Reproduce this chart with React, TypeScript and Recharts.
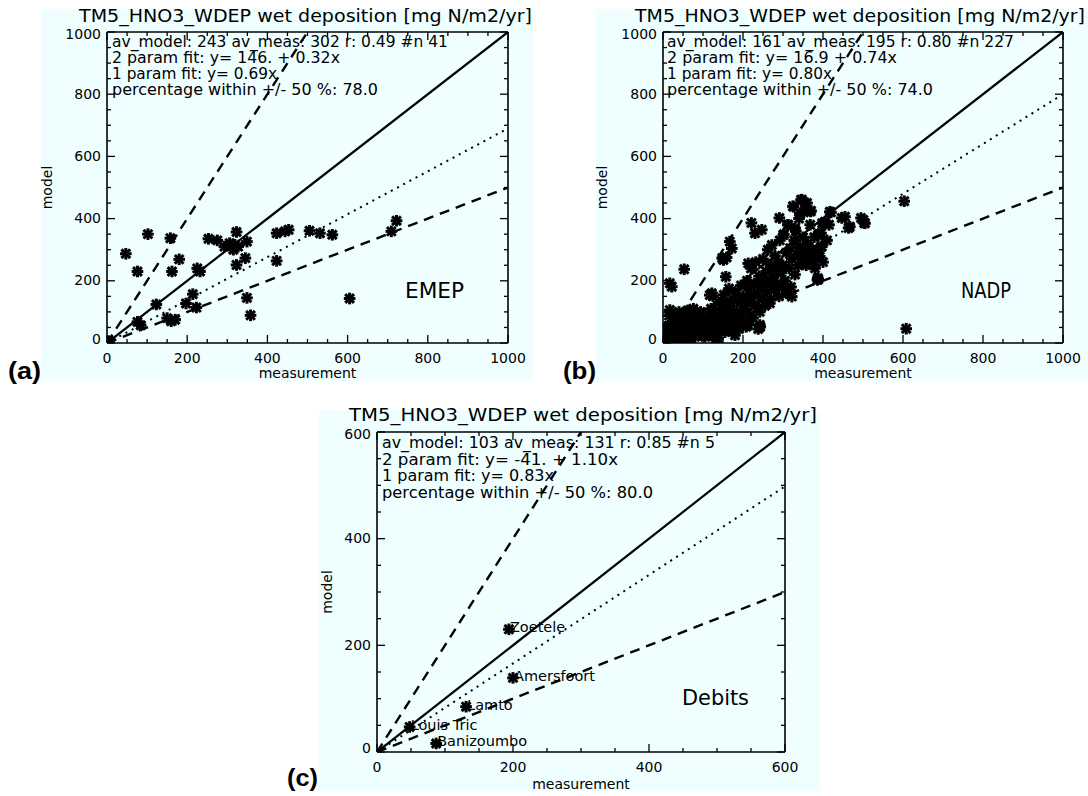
import React from 'react';
import { ScatterChart, Scatter, XAxis, YAxis } from 'recharts';

// ---------- data ----------
const ticksTo1000 = [0, 50, 100, 150, 200, 250, 300, 350, 400, 450, 500, 550, 600, 650, 700, 750, 800, 850, 900, 950, 1000];
const majorTo1000 = [0, 200, 400, 600, 800, 1000];
const ticksTo600 = [0, 50, 100, 150, 200, 250, 300, 350, 400, 450, 500, 550, 600];
const majorTo600 = [0, 200, 400, 600];

const chartTitle = 'TM5_HNO3_WDEP wet deposition [mg N/m2/yr]';
const xTitle = 'measurement';
const yTitle = 'model';

const statsEmep = ['av_model: 243 av_meas: 302 r: 0.49 #n 41', '2 param fit: y= 146. + 0.32x', '1 param fit: y= 0.69x', 'percentage within +/- 50 %: 78.0'];
const statsNadp = ['av_model: 161 av_meas: 195 r: 0.80 #n 227', '2 param fit: y= 16.9 + 0.74x', '1 param fit: y= 0.80x', 'percentage within +/- 50 %: 74.0'];
const statsDebits = ['av_model: 103 av_meas: 131 r: 0.85 #n 5', '2 param fit: y= -41. + 1.10x', '1 param fit: y= 0.83x', 'percentage within +/- 50 %: 80.0'];

// [measurement, model]
const emepPoints: [number, number][] = [
  [5, 6], [47, 287], [76, 230], [102, 350], [123, 124], [76, 68], [84, 57], [160, 70], [170, 75], [150, 80],
  [158, 337], [162, 230], [180, 269], [197, 127], [214, 157], [223, 114], [225, 240], [232, 230], [253, 335], [275, 330],
  [293, 310], [306, 321], [319, 316], [323, 357], [327, 310], [323, 251], [345, 273], [349, 326], [349, 145], [358, 89],
  [423, 264], [423, 353], [444, 359], [453, 364], [505, 361], [531, 353], [562, 348], [605, 143], [709, 359], [722, 393],
  [315, 300],
];

const nadpPoints: [number, number][] = [
  [3, 4], [5, 15], [8, 8], [10, 25], [12, 3], [14, 40], [16, 12], [18, 55], [20, 30], [22, 6],
  [24, 70], [26, 20], [28, 45], [30, 10], [32, 85], [34, 35], [36, 60], [38, 18], [40, 100], [42, 50],
  [44, 28], [46, 75], [48, 8], [50, 40], [52, 95], [54, 60], [56, 22], [58, 80], [60, 45], [62, 105],
  [64, 30], [66, 65], [68, 12], [70, 90], [72, 50], [74, 35], [76, 110], [78, 70], [80, 20], [82, 55],
  [84, 95], [86, 40], [88, 75], [90, 25], [92, 60], [94, 100], [96, 45], [98, 30], [100, 80], [102, 55],
  [105, 20], [108, 65], [110, 40], [115, 90], [118, 25], [120, 110], [122, 50], [125, 150], [128, 75], [130, 30],
  [132, 100], [135, 60], [138, 15], [140, 130], [142, 85], [145, 45], [148, 110], [150, 70], [152, 155], [155, 35],
  [158, 95], [160, 130], [162, 60], [165, 175], [168, 40], [170, 110], [172, 85], [175, 140], [178, 55], [180, 25],
  [182, 160], [185, 100], [188, 70], [190, 45], [192, 130], [195, 185], [198, 90],
  [200, 150], [202, 60], [205, 110], [208, 52], [210, 200], [212, 130], [215, 170], [218, 90], [220, 240], [222, 145],
  [225, 80], [228, 190], [230, 120], [232, 260], [235, 160], [238, 45], [240, 215], [242, 100], [245, 180], [248, 140],
  [250, 270], [252, 200], [255, 120], [258, 230], [260, 165], [262, 300], [265, 195], [268, 140], [270, 250], [272, 315],
  [275, 210], [278, 170], [280, 280], [282, 235], [285, 190], [288, 260], [290, 150], [292, 330], [295, 225], [298, 180],
  [300, 250], [302, 350], [305, 200], [308, 290], [310, 160], [312, 380], [315, 240], [318, 305], [320, 180], [322, 270],
  [325, 440], [328, 330], [330, 220], [332, 360], [335, 285], [338, 250], [340, 400], [342, 310], [345, 460], [348, 270],
  [350, 340], [352, 420], [355, 295], [358, 250], [360, 450], [362, 320], [365, 280], [368, 380], [370, 425], [372, 300],
  [375, 265], [378, 340], [380, 240], [385, 300], [388, 205], [390, 350], [392, 278], [395, 310], [398, 385], [400, 260],
  [405, 390], [410, 330], [415, 380], [420, 420],
  [17, 192], [22, 181], [53, 237], [117, 154], [122, 160], [148, 273], [157, 213], [159, 275], [167, 326], [172, 304],
  [151, 267], [213, 256], [221, 386], [230, 353], [247, 364], [243, 52], [242, 58], [213, 58], [291, 402], [301, 347],
  [313, 380], [330, 369], [326, 438], [347, 461], [355, 449], [342, 417], [369, 423], [417, 422], [404, 386], [395, 353],
  [386, 278], [386, 203], [388, 347], [397, 310], [387, 208], [322, 149], [309, 160], [267, 128], [447, 402], [464, 370],
  [455, 406], [467, 374], [495, 402], [503, 386], [501, 396], [505, 385], [603, 456], [608, 46], [17, 106], [108, 30],
  [122, 26], [6, 52], [15, 88], [130, 10],
];

const debitsSites = ['Zoetele', 'Amersfoort', 'Lamto', 'Louis Tric', 'Banizoumbo'];
const debitsMeas = [194, 200, 131, 48, 87];
const debitsModel = [230, 139, 85, 47, 16];

const identity1000: [number, number][] = [[0, 0], [1000, 1000]];
const double1000: [number, number][] = [[0, 0], [500, 1000]];
const half1000: [number, number][] = [[0, 0], [1000, 500]];
const fitEmep: [number, number][] = [[0, 0], [1000, 690]];
const fitNadp: [number, number][] = [[0, 0], [1000, 800]];
const identity600: [number, number][] = [[0, 0], [600, 600]];
const double600: [number, number][] = [[0, 0], [300, 600]];
const half600: [number, number][] = [[0, 0], [600, 300]];
const fitDebits: [number, number][] = [[0, 0], [600, 498]];

// ---------- drawing helpers ----------
const FONT = 'DejaVu Sans, Verdana, sans-serif';
const BG = '#EFFFFF';

const toXY = (arr: [number, number][]) => arr.map(([x, y]) => ({ x, y }));

function Star({ cx, cy }: { cx: number; cy: number }) {
  const r = 5.8;
  const d = 4.4;
  return (
    <g stroke="#000" strokeWidth={3}>
      <line x1={cx - r} y1={cy} x2={cx + r} y2={cy} />
      <line x1={cx} y1={cy - r} x2={cx} y2={cy + r} />
      <line x1={cx - d} y1={cy - d} x2={cx + d} y2={cy + d} />
      <line x1={cx - d} y1={cy + d} x2={cx + d} y2={cy - d} />
    </g>
  );
}

const starShape = (p: any) => <Star cx={p.cx} cy={p.cy} />;
const labelledShape = (p: any) => {
  const name = (p.payload && p.payload.name) || '';
  return (
    <g>
      <Star cx={p.cx} cy={p.cy} />
      <text x={p.cx + 1} y={p.cy + 3} fontSize={14.5} fontFamily={FONT} fill="#000">{name}</text>
    </g>
  );
};
const noShape = () => <g />;

type PanelProps = {
  left: number; top: number; width: number; height: number;
  margin: { top: number; right: number; bottom: number; left: number };
  max: number; ticks: number[]; majors: number[];
  points: { x: number; y: number; name?: string }[];
  labelled?: boolean;
  identity: [number, number][]; dbl: [number, number][]; half: [number, number][]; fit: [number, number][];
};

function Panel(props: PanelProps) {
  const { left, top, width, height, margin, max, ticks, majors, points, labelled, identity, dbl, half, fit } = props;
  const major = (v: number) => majors.indexOf(v) >= 0;
  const lab = { fontSize: 14, fontFamily: FONT, fill: '#000' };
  const bottomTick = (p: any) => {
    const v = p.payload.value;
    return (
      <g>
        <line x1={p.x} y1={p.y} x2={p.x} y2={p.y - (major(v) ? 8 : 4)} stroke="#000" strokeWidth={1.3} />
        {major(v) && <text x={p.x} y={p.y + 20} textAnchor="middle" {...lab}>{v}</text>}
      </g>
    );
  };
  const topTick = (p: any) => {
    const v = p.payload.value;
    return <line x1={p.x} y1={p.y} x2={p.x} y2={p.y + (major(v) ? 8 : 4)} stroke="#000" strokeWidth={1.3} />;
  };
  const leftTick = (p: any) => {
    const v = p.payload.value;
    const dy = v === 0 ? 1 : v === max ? 7 : 4.5;
    return (
      <g>
        <line x1={p.x} y1={p.y} x2={p.x + (major(v) ? 8 : 4)} y2={p.y} stroke="#000" strokeWidth={1.3} />
        {major(v) && <text x={p.x - 6} y={p.y + dy} textAnchor="end" {...lab}>{v}</text>}
      </g>
    );
  };
  const rightTick = (p: any) => {
    const v = p.payload.value;
    return <line x1={p.x} y1={p.y} x2={p.x - (major(v) ? 8 : 4)} y2={p.y} stroke="#000" strokeWidth={1.3} />;
  };
  const axisLine = { stroke: '#000', strokeWidth: 1.6 };
  const common = { type: 'number' as const, domain: [0, max], ticks, interval: 0 as const, tickSize: 0, tickMargin: 0, tickLine: false, axisLine, allowDataOverflow: true };
  // axes take 1px each of the margin (an axis of zero size is not drawn)
  const m = { top: margin.top - 1, right: margin.right - 1, bottom: margin.bottom - 1, left: margin.left - 1 };
  return (
    <div style={{ position: 'absolute', left, top, width, height, background: BG }}>
      <ScatterChart width={width} height={height} margin={m} style={{ overflow: 'visible' }}>
        <XAxis xAxisId="b" dataKey="x" orientation="bottom" height={1} tick={bottomTick} {...common} />
        <XAxis xAxisId="t" dataKey="x" orientation="top" height={1} tick={topTick} {...common} />
        <YAxis yAxisId="l" dataKey="y" orientation="left" width={1} tick={leftTick} {...common} />
        <YAxis yAxisId="r" dataKey="y" orientation="right" width={1} tick={rightTick} {...common} />
        <Scatter xAxisId="t" yAxisId="r" data={toXY(identity)} fill="#000" shape={noShape}
          line={{ stroke: '#000', strokeWidth: 2.2 }} isAnimationActive={false} />
        <Scatter xAxisId="t" yAxisId="r" data={toXY(dbl)} fill="#000" shape={noShape}
          line={{ stroke: '#000', strokeWidth: 2.4, strokeDasharray: '10 7' }} isAnimationActive={false} />
        <Scatter xAxisId="t" yAxisId="r" data={toXY(half)} fill="#000" shape={noShape}
          line={{ stroke: '#000', strokeWidth: 2.4, strokeDasharray: '10 7' }} isAnimationActive={false} />
        <Scatter xAxisId="t" yAxisId="r" data={toXY(fit)} fill="#000" shape={noShape}
          line={{ stroke: '#000', strokeWidth: 2, strokeDasharray: '2 5' }} isAnimationActive={false} />
        <Scatter xAxisId="b" yAxisId="l" data={points} fill="#000"
          shape={labelled ? labelledShape : starShape} isAnimationActive={false} />
      </ScatterChart>
    </div>
  );
}

function Txt({ x, y, w, size = 15, anchor = 'start', children, rotate = false, bold = false, family = FONT }: any) {
  return (
    <text x={x} y={y} fontSize={size} fontFamily={family} fontWeight={bold ? 'bold' : 'normal'} fill="#000"
      textAnchor={anchor} textLength={w} lengthAdjust={w ? 'spacingAndGlyphs' : undefined}
      transform={rotate ? `rotate(-90 ${x} ${y})` : undefined}>{children}</text>
  );
}

function Annotations() {
  const statsRows = [15, 31, 47, 63];
  const wA = [336, 228, 165, 266];
  const wB = [347, 230, 165, 266];
  const wC = [333, 236, 172, 271];
  return (
    <svg width={1088} height={796} style={{ position: 'absolute', left: 0, top: 0, pointerEvents: 'none' }}>
      {/* panel a */}
      <Txt x={79} y={21.5} w={453} size={17}>{chartTitle}</Txt>
      {statsEmep.map((s, i) => <Txt key={'a' + i} x={112} y={32 + statsRows[i]} w={wA[i]}>{s}</Txt>)}
      <Txt x={405} y={298} w={59} size={21.5}>EMEP</Txt>
      <Txt x={307.5} y={378} size={14} anchor="middle">{xTitle}</Txt>
      <Txt x={52} y={187.5} size={14} anchor="middle" rotate>{yTitle}</Txt>
      <Txt x={8} y={379} size={24} bold family="Liberation Sans, Arial, sans-serif" w={33}>(a)</Txt>
      {/* panel b */}
      <Txt x={635} y={21.5} w={450} size={17}>{chartTitle}</Txt>
      {statsNadp.map((s, i) => <Txt key={'b' + i} x={667} y={32 + statsRows[i]} w={wB[i]}>{s}</Txt>)}
      <Txt x={961} y={298} w={50} size={21.5}>NADP</Txt>
      <Txt x={863} y={378} size={14} anchor="middle">{xTitle}</Txt>
      <Txt x={607} y={187.5} size={14} anchor="middle" rotate>{yTitle}</Txt>
      <Txt x={563} y={379} size={24} bold family="Liberation Sans, Arial, sans-serif" w={33}>(b)</Txt>
      {/* panel c */}
      <Txt x={349} y={420.5} w={468} size={17.5}>{chartTitle}</Txt>
      {statsDebits.map((s, i) => <Txt key={'c' + i} x={382} y={433 + statsRows[i] * 1.03} w={wC[i]}>{s}</Txt>)}
      <Txt x={682} y={705} w={67} size={21.5}>Debits</Txt>
      <Txt x={581} y={789} size={14} anchor="middle">{xTitle}</Txt>
      <Txt x={332} y={592} size={14} anchor="middle" rotate>{yTitle}</Txt>
      <Txt x={287} y={786} size={23} bold family="Liberation Sans, Arial, sans-serif" w={31}>(c)</Txt>
    </svg>
  );
}

export default function App() {
  const emep = toXY(emepPoints);
  const nadp = toXY(nadpPoints);
  const debits = debitsSites.map((name, i) => ({ x: debitsMeas[i], y: debitsModel[i], name }));
  return (
    <div style={{ position: 'absolute', left: 0, top: 0, width: 1088, height: 796, background: '#fff', fontFamily: FONT }}>
      <Panel left={41} top={9} width={492} height={372} margin={{ top: 23, right: 25, bottom: 38, left: 66 }}
        max={1000} ticks={ticksTo1000} majors={majorTo1000} points={emep}
        identity={identity1000} dbl={double1000} half={half1000} fit={fitEmep} />
      <Panel left={596} top={9} width={492} height={372} margin={{ top: 23, right: 25, bottom: 38, left: 67 }}
        max={1000} ticks={ticksTo1000} majors={majorTo1000} points={nadp}
        identity={identity1000} dbl={double1000} half={half1000} fit={fitNadp} />
      <Panel left={319} top={410} width={501} height={381} margin={{ top: 22, right: 35, bottom: 39, left: 58 }}
        max={600} ticks={ticksTo600} majors={majorTo600} points={debits} labelled
        identity={identity600} dbl={double600} half={half600} fit={fitDebits} />
      <Annotations />
    </div>
  );
}
